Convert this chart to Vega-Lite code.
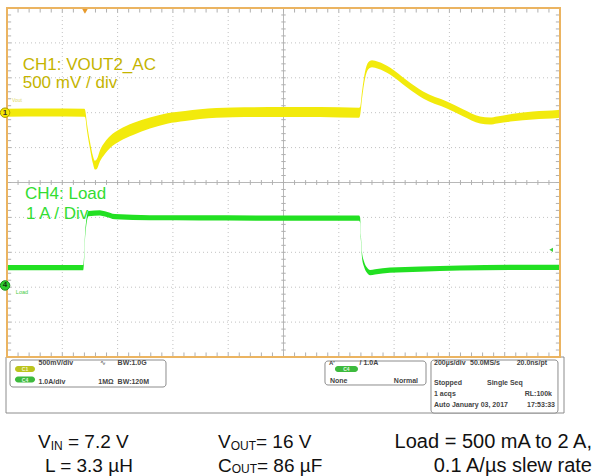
{
"$schema":"https://vega.github.io/schema/vega-lite/v6.json",
"width":553,"height":349,
"autosize":{"type":"none"},
"padding":{"left":7,"top":8,"right":36,"bottom":119},
"background":"white",
"config":{"view":{"stroke":null},"font":"Liberation Sans"},
"resolve":{"scale":{"y":"independent"}},
"datasets":{
"vgrid":[{"t":200},{"t":400},{"t":600},{"t":800},{"t":1200},{"t":1400},{"t":1600},{"t":1800}],
"hgrid":[{"d":-4},{"d":-3},{"d":-2},{"d":-1},{"d":1},{"d":2},{"d":3},{"d":4}],
"xminor":[{"t":40},{"t":80},{"t":120},{"t":160},{"t":200},{"t":240},{"t":280},{"t":320},{"t":360},{"t":400},{"t":440},{"t":480},{"t":520},{"t":560},{"t":600},{"t":640},{"t":680},{"t":720},{"t":760},{"t":800},{"t":840},{"t":880},{"t":920},{"t":960},{"t":1000},{"t":1040},{"t":1080},{"t":1120},{"t":1160},{"t":1200},{"t":1240},{"t":1280},{"t":1320},{"t":1360},{"t":1400},{"t":1440},{"t":1480},{"t":1520},{"t":1560},{"t":1600},{"t":1640},{"t":1680},{"t":1720},{"t":1760},{"t":1800},{"t":1840},{"t":1880},{"t":1920},{"t":1960}],
"yminor":[{"d":-4.8},{"d":-4.6},{"d":-4.4},{"d":-4.2},{"d":-4},{"d":-3.8},{"d":-3.6},{"d":-3.4},{"d":-3.2},{"d":-3},{"d":-2.8},{"d":-2.6},{"d":-2.4},{"d":-2.2},{"d":-2},{"d":-1.8},{"d":-1.6},{"d":-1.4},{"d":-1.2},{"d":-1},{"d":-0.8},{"d":-0.6},{"d":-0.4},{"d":-0.2},{"d":0},{"d":0.2},{"d":0.4},{"d":0.6},{"d":0.8},{"d":1},{"d":1.2},{"d":1.4},{"d":1.6},{"d":1.8},{"d":2},{"d":2.2},{"d":2.4},{"d":2.6},{"d":2.8},{"d":3},{"d":3.2},{"d":3.4},{"d":3.6},{"d":3.8},{"d":4},{"d":4.2},{"d":4.4},{"d":4.6},{"d":4.8}],
"ch1":[{"t":0,"mV_hi":57,"mV_lo":-57},{"t":140,"mV_hi":59,"mV_lo":-55},{"t":280,"mV_hi":57,"mV_lo":-57},{"t":283,"mV_hi":30,"mV_lo":-70},{"t":289,"mV_hi":-150,"mV_lo":-250},{"t":300,"mV_hi":-413,"mV_lo":-513},{"t":311,"mV_hi":-623,"mV_lo":-733},{"t":318,"mV_hi":-690,"mV_lo":-815},{"t":325,"mV_hi":-665,"mV_lo":-805},{"t":336,"mV_hi":-540,"mV_lo":-700},{"t":354,"mV_hi":-420,"mV_lo":-592},{"t":373,"mV_hi":-334,"mV_lo":-506},{"t":409,"mV_hi":-234,"mV_lo":-406},{"t":456,"mV_hi":-147,"mV_lo":-319},{"t":517,"mV_hi":-68,"mV_lo":-228},{"t":579,"mV_hi":-8,"mV_lo":-158},{"t":644,"mV_hi":25,"mV_lo":-119},{"t":698,"mV_hi":51,"mV_lo":-89},{"t":817,"mV_hi":75,"mV_lo":-65},{"t":998,"mV_hi":80,"mV_lo":-60},{"t":1132,"mV_hi":82,"mV_lo":-62},{"t":1273,"mV_hi":72,"mV_lo":-72},{"t":1277,"mV_hi":80,"mV_lo":-40},{"t":1284,"mV_hi":304,"mV_lo":204},{"t":1295,"mV_hi":590,"mV_lo":490},{"t":1306,"mV_hi":720,"mV_lo":620},{"t":1320,"mV_hi":750,"mV_lo":650},{"t":1342,"mV_hi":730,"mV_lo":630},{"t":1385,"mV_hi":647,"mV_lo":547},{"t":1447,"mV_hi":461,"mV_lo":361},{"t":1505,"mV_hi":304,"mV_lo":204},{"t":1591,"mV_hi":160,"mV_lo":60},{"t":1649,"mV_hi":50,"mV_lo":-50},{"t":1711,"mV_hi":-55,"mV_lo":-155},{"t":1747,"mV_hi":-70,"mV_lo":-170},{"t":1772,"mV_hi":-55,"mV_lo":-155},{"t":1830,"mV_hi":-14,"mV_lo":-124},{"t":1902,"mV_hi":17,"mV_lo":-97},{"t":1993,"mV_hi":38,"mV_lo":-76},{"t":2000,"mV_hi":46,"mV_lo":-68}],
"ch4":[{"t":0,"A_hi":0.585,"A_lo":0.435},{"t":275,"A_hi":0.585,"A_lo":0.435},{"t":279,"A_hi":0.875,"A_lo":0.725},{"t":282,"A_hi":1.455,"A_lo":1.305},{"t":286,"A_hi":1.825,"A_lo":1.675},{"t":290,"A_hi":2.035,"A_lo":1.885},{"t":295,"A_hi":2.135,"A_lo":1.985},{"t":336,"A_hi":2.155,"A_lo":2.005},{"t":354,"A_hi":2.125,"A_lo":1.975},{"t":391,"A_hi":2.045,"A_lo":1.895},{"t":517,"A_hi":2.015,"A_lo":1.865},{"t":698,"A_hi":2.01,"A_lo":1.86},{"t":987,"A_hi":2.005,"A_lo":1.855},{"t":1273,"A_hi":2.005,"A_lo":1.855},{"t":1277,"A_hi":1.955,"A_lo":1.805},{"t":1280,"A_hi":1.435,"A_lo":1.285},{"t":1284,"A_hi":0.945,"A_lo":0.795},{"t":1291,"A_hi":0.695,"A_lo":0.545},{"t":1302,"A_hi":0.515,"A_lo":0.365},{"t":1313,"A_hi":0.445,"A_lo":0.295},{"t":1331,"A_hi":0.465,"A_lo":0.315},{"t":1385,"A_hi":0.515,"A_lo":0.365},{"t":1494,"A_hi":0.545,"A_lo":0.395},{"t":1638,"A_hi":0.575,"A_lo":0.425},{"t":1819,"A_hi":0.59,"A_lo":0.44},{"t":2000,"A_hi":0.59,"A_lo":0.44}]
},
"layer":[
{"data":{"name":"vgrid"},"mark":{"type":"rule","color":"#C2C2C2","strokeWidth":1,"strokeDash":[1,3]},"encoding":{"x":{"field":"t","type":"quantitative","scale":{"domain":[0,2000],"nice":false,"zero":false},"axis":null},"y":{"datum":-5,"type":"quantitative","scale":{"domain":[-5,5],"nice":false,"zero":false},"axis":null},"y2":{"datum":5}}},
{"data":{"name":"hgrid"},"mark":{"type":"rule","color":"#C2C2C2","strokeWidth":1,"strokeDash":[1,3]},"encoding":{"y":{"field":"d","type":"quantitative","scale":{"domain":[-5,5],"nice":false,"zero":false},"axis":null},"x":{"datum":0,"type":"quantitative","scale":{"domain":[0,2000],"nice":false,"zero":false},"axis":null},"x2":{"datum":2000}}},
{"data":{"values":[{}]},"mark":{"type":"rule","color":"#B8B8B8","strokeWidth":1},"encoding":{"x":{"datum":1000,"type":"quantitative","scale":{"domain":[0,2000],"nice":false,"zero":false},"axis":null},"y":{"datum":-5,"type":"quantitative","scale":{"domain":[-5,5],"nice":false,"zero":false},"axis":null},"y2":{"datum":5}}},
{"data":{"values":[{}]},"mark":{"type":"rule","color":"#B8B8B8","strokeWidth":1},"encoding":{"y":{"datum":0,"type":"quantitative","scale":{"domain":[-5,5],"nice":false,"zero":false},"axis":null},"x":{"datum":0,"type":"quantitative","scale":{"domain":[0,2000],"nice":false,"zero":false},"axis":null},"x2":{"datum":2000}}},
{"data":{"name":"xminor"},"mark":{"type":"rule","color":"#B0B0B0","strokeWidth":1},"encoding":{"x":{"field":"t","type":"quantitative","scale":{"domain":[0,2000],"nice":false,"zero":false},"axis":null},"y":{"datum":-0.07,"type":"quantitative","scale":{"domain":[-5,5],"nice":false,"zero":false},"axis":null},"y2":{"datum":0.07}}},
{"data":{"name":"yminor"},"mark":{"type":"rule","color":"#B0B0B0","strokeWidth":1},"encoding":{"y":{"field":"d","type":"quantitative","scale":{"domain":[-5,5],"nice":false,"zero":false},"axis":null},"x":{"datum":992,"type":"quantitative","scale":{"domain":[0,2000],"nice":false,"zero":false},"axis":null},"x2":{"datum":1008}}},
{"data":{"name":"xminor"},"mark":{"type":"rule","color":"#B0B0B0","strokeWidth":1},"encoding":{"x":{"field":"t","type":"quantitative","scale":{"domain":[0,2000],"nice":false,"zero":false},"axis":null},"y":{"datum":5,"type":"quantitative","scale":{"domain":[-5,5],"nice":false,"zero":false},"axis":null},"y2":{"datum":4.87}}},
{"data":{"name":"xminor"},"mark":{"type":"rule","color":"#B0B0B0","strokeWidth":1},"encoding":{"x":{"field":"t","type":"quantitative","scale":{"domain":[0,2000],"nice":false,"zero":false},"axis":null},"y":{"datum":-5,"type":"quantitative","scale":{"domain":[-5,5],"nice":false,"zero":false},"axis":null},"y2":{"datum":-4.87}}},
{"data":{"name":"yminor"},"mark":{"type":"rule","color":"#B0B0B0","strokeWidth":1},"encoding":{"y":{"field":"d","type":"quantitative","scale":{"domain":[-5,5],"nice":false,"zero":false},"axis":null},"x":{"datum":0,"type":"quantitative","scale":{"domain":[0,2000],"nice":false,"zero":false},"axis":null},"x2":{"datum":15}}},
{"data":{"name":"yminor"},"mark":{"type":"rule","color":"#B0B0B0","strokeWidth":1},"encoding":{"y":{"field":"d","type":"quantitative","scale":{"domain":[-5,5],"nice":false,"zero":false},"axis":null},"x":{"datum":2000,"type":"quantitative","scale":{"domain":[0,2000],"nice":false,"zero":false},"axis":null},"x2":{"datum":1985}}},
{"data":{"name":"ch1"},"mark":{"type":"area","color":"#F2EA0C","interpolate":"monotone","opacity":1},"encoding":{"x":{"field":"t","type":"quantitative","scale":{"domain":[0,2000],"nice":false,"zero":false},"axis":null},"y":{"field":"mV_hi","type":"quantitative","scale":{"domain":[-3500,1500],"nice":false,"zero":false},"axis":null},"y2":{"field":"mV_lo"}}},
{"data":{"name":"ch4"},"mark":{"type":"area","color":"#22E022","interpolate":"monotone","opacity":1},"encoding":{"x":{"field":"t","type":"quantitative","scale":{"domain":[0,2000],"nice":false,"zero":false},"axis":null},"y":{"field":"A_hi","type":"quantitative","scale":{"domain":[-2.05,7.95],"nice":false,"zero":false},"axis":null},"y2":{"field":"A_lo"}}},
{"data":{"values":[{}]},"mark":{"type":"rect","fillOpacity":0,"stroke":"#8C8C8C","strokeWidth":1},"encoding":{"x":{"datum":-3.6,"type":"quantitative","scale":{"domain":[0,2000],"nice":false,"zero":false},"axis":null},"x2":{"datum":2014.5},"y":{"datum":-5,"type":"quantitative","scale":{"domain":[-5,5],"nice":false,"zero":false},"axis":null},"y2":{"datum":-6.605}}},
{"data":{"values":[{}]},"mark":{"type":"rect","fillOpacity":0,"stroke":"#EBB461","strokeWidth":2},"encoding":{"x":{"datum":0,"type":"quantitative","scale":{"domain":[0,2000],"nice":false,"zero":false},"axis":null},"x2":{"datum":2000},"y":{"datum":-5,"type":"quantitative","scale":{"domain":[-5,5],"nice":false,"zero":false},"axis":null},"y2":{"datum":5}}},
{"data":{"values":[{}]},"mark":{"type":"rect","fill":"white","stroke":"#8C8C8C","strokeWidth":1,"cornerRadius":3},"encoding":{"x":{"datum":10.85,"type":"quantitative","scale":{"domain":[0,2000],"nice":false,"zero":false},"axis":null},"x2":{"datum":575},"y":{"datum":-5.086,"type":"quantitative","scale":{"domain":[-5,5],"nice":false,"zero":false},"axis":null},"y2":{"datum":-5.86}}},
{"data":{"values":[{}]},"mark":{"type":"rect","fill":"white","stroke":"#8C8C8C","strokeWidth":1,"cornerRadius":3},"encoding":{"x":{"datum":1150,"type":"quantitative","scale":{"domain":[0,2000],"nice":false,"zero":false},"axis":null},"x2":{"datum":1515.4},"y":{"datum":-5.115,"type":"quantitative","scale":{"domain":[-5,5],"nice":false,"zero":false},"axis":null},"y2":{"datum":-5.802}}},
{"data":{"values":[{}]},"mark":{"type":"rect","fill":"white","stroke":"#8C8C8C","strokeWidth":1,"cornerRadius":3},"encoding":{"x":{"datum":1533.4,"type":"quantitative","scale":{"domain":[0,2000],"nice":false,"zero":false},"axis":null},"x2":{"datum":1992.7},"y":{"datum":-5.086,"type":"quantitative","scale":{"domain":[-5,5],"nice":false,"zero":false},"axis":null},"y2":{"datum":-6.605}}},
{"data":{"values":[{}]},"mark":{"type":"rect","fill":"#BCC41E","cornerRadius":3},"encoding":{"x":{"datum":28.9,"type":"quantitative","scale":{"domain":[0,2000],"nice":false,"zero":false},"axis":null},"x2":{"datum":101.3},"y":{"datum":-5.258,"type":"quantitative","scale":{"domain":[-5,5],"nice":false,"zero":false},"axis":null},"y2":{"datum":-5.43}}},
{"data":{"values":[{}]},"mark":{"type":"rect","fill":"#3DBA3D","cornerRadius":3},"encoding":{"x":{"datum":28.9,"type":"quantitative","scale":{"domain":[0,2000],"nice":false,"zero":false},"axis":null},"x2":{"datum":101.3},"y":{"datum":-5.559,"type":"quantitative","scale":{"domain":[-5,5],"nice":false,"zero":false},"axis":null},"y2":{"datum":-5.731}}},
{"data":{"values":[{}]},"mark":{"type":"rect","fill":"#3DBA3D","cornerRadius":3},"encoding":{"x":{"datum":1186,"type":"quantitative","scale":{"domain":[0,2000],"nice":false,"zero":false},"axis":null},"x2":{"datum":1269.4},"y":{"datum":-5.258,"type":"quantitative","scale":{"domain":[-5,5],"nice":false,"zero":false},"axis":null},"y2":{"datum":-5.43}}},
{"data":{"values":[{}]},"mark":{"type":"point","shape":"circle","filled":true,"size":90,"fill":"#F5E600","stroke":"#A89A00","strokeWidth":1,"opacity":1},"encoding":{"x":{"datum":-7,"type":"quantitative","scale":{"domain":[0,2000],"nice":false,"zero":false},"axis":null},"y":{"datum":2,"type":"quantitative","scale":{"domain":[-5,5],"nice":false,"zero":false},"axis":null}}},
{"data":{"values":[{}]},"mark":{"type":"point","shape":"circle","filled":true,"size":90,"fill":"#2ECC2E","stroke":"#1A8A1A","strokeWidth":1,"opacity":1},"encoding":{"x":{"datum":-7,"type":"quantitative","scale":{"domain":[0,2000],"nice":false,"zero":false},"axis":null},"y":{"datum":-2.95,"type":"quantitative","scale":{"domain":[-5,5],"nice":false,"zero":false},"axis":null}}},
{"data":{"values":[{}]},"mark":{"type":"point","shape":"triangle-down","filled":true,"size":30,"fill":"#E89A2A","opacity":1},"encoding":{"x":{"datum":282,"type":"quantitative","scale":{"domain":[0,2000],"nice":false,"zero":false},"axis":null},"y":{"datum":4.9,"type":"quantitative","scale":{"domain":[-5,5],"nice":false,"zero":false},"axis":null}}},
{"data":{"values":[{}]},"mark":{"type":"point","shape":"triangle-left","filled":true,"size":18,"fill":"#3CD23C","opacity":1},"encoding":{"x":{"datum":1968,"type":"quantitative","scale":{"domain":[0,2000],"nice":false,"zero":false},"axis":null},"y":{"datum":-1.93,"type":"quantitative","scale":{"domain":[-5,5],"nice":false,"zero":false},"axis":null}}},
{"data":{"values":[{}]},"mark":{"type":"text","text":"1","fontSize":8,"fontWeight":"bold","color":"#333333","align":"center","baseline":"middle"},"encoding":{"x":{"datum":-7,"type":"quantitative","scale":{"domain":[0,2000],"nice":false,"zero":false},"axis":null},"y":{"datum":2,"type":"quantitative","scale":{"domain":[-5,5],"nice":false,"zero":false},"axis":null}}},
{"data":{"values":[{}]},"mark":{"type":"text","text":"4","fontSize":8,"fontWeight":"bold","color":"#113311","align":"center","baseline":"middle"},"encoding":{"x":{"datum":-7,"type":"quantitative","scale":{"domain":[0,2000],"nice":false,"zero":false},"axis":null},"y":{"datum":-2.95,"type":"quantitative","scale":{"domain":[-5,5],"nice":false,"zero":false},"axis":null}}},
{"data":{"values":[{}]},"mark":{"type":"text","text":"Vout","fontSize":5,"color":"#E2DA6A","align":"left"},"encoding":{"x":{"datum":18,"type":"quantitative","scale":{"domain":[0,2000],"nice":false,"zero":false},"axis":null},"y":{"datum":2.36,"type":"quantitative","scale":{"domain":[-5,5],"nice":false,"zero":false},"axis":null}}},
{"data":{"values":[{}]},"mark":{"type":"text","text":"Load","fontSize":5.5,"color":"#44CC44","align":"left"},"encoding":{"x":{"datum":32,"type":"quantitative","scale":{"domain":[0,2000],"nice":false,"zero":false},"axis":null},"y":{"datum":-3.13,"type":"quantitative","scale":{"domain":[-5,5],"nice":false,"zero":false},"axis":null}}},
{"data":{"values":[{}]},"mark":{"type":"text","text":"CH1: VOUT2_AC","fontSize":17,"color":"#C4B400","align":"left"},"encoding":{"x":{"datum":56.8,"type":"quantitative","scale":{"domain":[0,2000],"nice":false,"zero":false},"axis":null},"y":{"datum":3.367,"type":"quantitative","scale":{"domain":[-5,5],"nice":false,"zero":false},"axis":null}}},
{"data":{"values":[{}]},"mark":{"type":"text","text":"500 mV / div","fontSize":17,"color":"#C4B400","align":"left"},"encoding":{"x":{"datum":56.8,"type":"quantitative","scale":{"domain":[0,2000],"nice":false,"zero":false},"axis":null},"y":{"datum":2.842,"type":"quantitative","scale":{"domain":[-5,5],"nice":false,"zero":false},"axis":null}}},
{"data":{"values":[{}]},"mark":{"type":"text","text":"CH4: Load","fontSize":17,"color":"#33DD33","align":"left"},"encoding":{"x":{"datum":65.1,"type":"quantitative","scale":{"domain":[0,2000],"nice":false,"zero":false},"axis":null},"y":{"datum":-0.33,"type":"quantitative","scale":{"domain":[-5,5],"nice":false,"zero":false},"axis":null}}},
{"data":{"values":[{}]},"mark":{"type":"text","text":"1 A / Div","fontSize":17,"color":"#33DD33","align":"left"},"encoding":{"x":{"datum":68.7,"type":"quantitative","scale":{"domain":[0,2000],"nice":false,"zero":false},"axis":null},"y":{"datum":-0.911,"type":"quantitative","scale":{"domain":[-5,5],"nice":false,"zero":false},"axis":null}}},
{"data":{"values":[{}]},"mark":{"type":"text","text":"C1","fontSize":5,"fontWeight":"bold","color":"#F4F4D0","align":"center","baseline":"middle"},"encoding":{"x":{"datum":65.1,"type":"quantitative","scale":{"domain":[0,2000],"nice":false,"zero":false},"axis":null},"y":{"datum":-5.344,"type":"quantitative","scale":{"domain":[-5,5],"nice":false,"zero":false},"axis":null}}},
{"data":{"values":[{}]},"mark":{"type":"text","text":"C4","fontSize":5,"fontWeight":"bold","color":"#E0F8E0","align":"center","baseline":"middle"},"encoding":{"x":{"datum":65.1,"type":"quantitative","scale":{"domain":[0,2000],"nice":false,"zero":false},"axis":null},"y":{"datum":-5.645,"type":"quantitative","scale":{"domain":[-5,5],"nice":false,"zero":false},"axis":null}}},
{"data":{"values":[{}]},"mark":{"type":"text","text":"C4","fontSize":5,"fontWeight":"bold","color":"#E0F8E0","align":"center","baseline":"middle"},"encoding":{"x":{"datum":1227.7,"type":"quantitative","scale":{"domain":[0,2000],"nice":false,"zero":false},"axis":null},"y":{"datum":-5.344,"type":"quantitative","scale":{"domain":[-5,5],"nice":false,"zero":false},"axis":null}}},
{"data":{"values":[{}]},"mark":{"type":"text","text":"500mV/div","fontSize":7,"fontWeight":"bold","color":"#444444","align":"left"},"encoding":{"x":{"datum":113.9,"type":"quantitative","scale":{"domain":[0,2000],"nice":false,"zero":false},"axis":null},"y":{"datum":-5.186,"type":"quantitative","scale":{"domain":[-5,5],"nice":false,"zero":false},"axis":null}}},
{"data":{"values":[{}]},"mark":{"type":"text","text":"∿","fontSize":7,"color":"#444444","align":"left"},"encoding":{"x":{"datum":336,"type":"quantitative","scale":{"domain":[0,2000],"nice":false,"zero":false},"axis":null},"y":{"datum":-5.186,"type":"quantitative","scale":{"domain":[-5,5],"nice":false,"zero":false},"axis":null}}},
{"data":{"values":[{}]},"mark":{"type":"text","text":"BW:1.0G","fontSize":7,"fontWeight":"bold","color":"#444444","align":"left"},"encoding":{"x":{"datum":400,"type":"quantitative","scale":{"domain":[0,2000],"nice":false,"zero":false},"axis":null},"y":{"datum":-5.186,"type":"quantitative","scale":{"domain":[-5,5],"nice":false,"zero":false},"axis":null}}},
{"data":{"values":[{}]},"mark":{"type":"text","text":"1.0A/div","fontSize":7,"fontWeight":"bold","color":"#444444","align":"left"},"encoding":{"x":{"datum":113.9,"type":"quantitative","scale":{"domain":[0,2000],"nice":false,"zero":false},"axis":null},"y":{"datum":-5.716,"type":"quantitative","scale":{"domain":[-5,5],"nice":false,"zero":false},"axis":null}}},
{"data":{"values":[{}]},"mark":{"type":"text","text":"1MΩ","fontSize":7,"fontWeight":"bold","color":"#444444","align":"left"},"encoding":{"x":{"datum":330,"type":"quantitative","scale":{"domain":[0,2000],"nice":false,"zero":false},"axis":null},"y":{"datum":-5.716,"type":"quantitative","scale":{"domain":[-5,5],"nice":false,"zero":false},"axis":null}}},
{"data":{"values":[{}]},"mark":{"type":"text","text":"BW:120M","fontSize":7,"fontWeight":"bold","color":"#444444","align":"left"},"encoding":{"x":{"datum":400,"type":"quantitative","scale":{"domain":[0,2000],"nice":false,"zero":false},"axis":null},"y":{"datum":-5.716,"type":"quantitative","scale":{"domain":[-5,5],"nice":false,"zero":false},"axis":null}}},
{"data":{"values":[{}]},"mark":{"type":"text","text":"A'","fontSize":6,"fontWeight":"bold","color":"#444444","align":"left"},"encoding":{"x":{"datum":1164.5,"type":"quantitative","scale":{"domain":[0,2000],"nice":false,"zero":false},"axis":null},"y":{"datum":-5.186,"type":"quantitative","scale":{"domain":[-5,5],"nice":false,"zero":false},"axis":null}}},
{"data":{"values":[{}]},"mark":{"type":"text","text":"/ 1.0A","fontSize":7,"fontWeight":"bold","color":"#444444","align":"left"},"encoding":{"x":{"datum":1274.9,"type":"quantitative","scale":{"domain":[0,2000],"nice":false,"zero":false},"axis":null},"y":{"datum":-5.186,"type":"quantitative","scale":{"domain":[-5,5],"nice":false,"zero":false},"axis":null}}},
{"data":{"values":[{}]},"mark":{"type":"text","text":"None","fontSize":7,"fontWeight":"bold","color":"#444444","align":"left"},"encoding":{"x":{"datum":1168,"type":"quantitative","scale":{"domain":[0,2000],"nice":false,"zero":false},"axis":null},"y":{"datum":-5.688,"type":"quantitative","scale":{"domain":[-5,5],"nice":false,"zero":false},"axis":null}}},
{"data":{"values":[{}]},"mark":{"type":"text","text":"Normal","fontSize":7,"fontWeight":"bold","color":"#444444","align":"right"},"encoding":{"x":{"datum":1486.4,"type":"quantitative","scale":{"domain":[0,2000],"nice":false,"zero":false},"axis":null},"y":{"datum":-5.688,"type":"quantitative","scale":{"domain":[-5,5],"nice":false,"zero":false},"axis":null}}},
{"data":{"values":[{}]},"mark":{"type":"text","text":"200µs/div","fontSize":7,"fontWeight":"bold","color":"#444444","align":"left"},"encoding":{"x":{"datum":1544.3,"type":"quantitative","scale":{"domain":[0,2000],"nice":false,"zero":false},"axis":null},"y":{"datum":-5.186,"type":"quantitative","scale":{"domain":[-5,5],"nice":false,"zero":false},"axis":null}}},
{"data":{"values":[{}]},"mark":{"type":"text","text":"50.0MS/s","fontSize":7,"fontWeight":"bold","color":"#444444","align":"left"},"encoding":{"x":{"datum":1674.5,"type":"quantitative","scale":{"domain":[0,2000],"nice":false,"zero":false},"axis":null},"y":{"datum":-5.186,"type":"quantitative","scale":{"domain":[-5,5],"nice":false,"zero":false},"axis":null}}},
{"data":{"values":[{}]},"mark":{"type":"text","text":"20.0ns/pt","fontSize":7,"fontWeight":"bold","color":"#444444","align":"right"},"encoding":{"x":{"datum":1953,"type":"quantitative","scale":{"domain":[0,2000],"nice":false,"zero":false},"axis":null},"y":{"datum":-5.186,"type":"quantitative","scale":{"domain":[-5,5],"nice":false,"zero":false},"axis":null}}},
{"data":{"values":[{}]},"mark":{"type":"text","text":"Stopped","fontSize":7,"fontWeight":"bold","color":"#444444","align":"left"},"encoding":{"x":{"datum":1544.3,"type":"quantitative","scale":{"domain":[0,2000],"nice":false,"zero":false},"axis":null},"y":{"datum":-5.731,"type":"quantitative","scale":{"domain":[-5,5],"nice":false,"zero":false},"axis":null}}},
{"data":{"values":[{}]},"mark":{"type":"text","text":"Single Seq","fontSize":7,"fontWeight":"bold","color":"#444444","align":"left"},"encoding":{"x":{"datum":1736,"type":"quantitative","scale":{"domain":[0,2000],"nice":false,"zero":false},"axis":null},"y":{"datum":-5.731,"type":"quantitative","scale":{"domain":[-5,5],"nice":false,"zero":false},"axis":null}}},
{"data":{"values":[{}]},"mark":{"type":"text","text":"1 acqs","fontSize":7,"fontWeight":"bold","color":"#444444","align":"left"},"encoding":{"x":{"datum":1544.3,"type":"quantitative","scale":{"domain":[0,2000],"nice":false,"zero":false},"axis":null},"y":{"datum":-6.046,"type":"quantitative","scale":{"domain":[-5,5],"nice":false,"zero":false},"axis":null}}},
{"data":{"values":[{}]},"mark":{"type":"text","text":"RL:100k","fontSize":7,"fontWeight":"bold","color":"#444444","align":"right"},"encoding":{"x":{"datum":1971,"type":"quantitative","scale":{"domain":[0,2000],"nice":false,"zero":false},"axis":null},"y":{"datum":-6.046,"type":"quantitative","scale":{"domain":[-5,5],"nice":false,"zero":false},"axis":null}}},
{"data":{"values":[{}]},"mark":{"type":"text","text":"Auto","fontSize":7,"fontWeight":"bold","color":"#444444","align":"left"},"encoding":{"x":{"datum":1544.3,"type":"quantitative","scale":{"domain":[0,2000],"nice":false,"zero":false},"axis":null},"y":{"datum":-6.375,"type":"quantitative","scale":{"domain":[-5,5],"nice":false,"zero":false},"axis":null}}},
{"data":{"values":[{}]},"mark":{"type":"text","text":"January 03, 2017","fontSize":7,"fontWeight":"bold","color":"#444444","align":"left"},"encoding":{"x":{"datum":1609,"type":"quantitative","scale":{"domain":[0,2000],"nice":false,"zero":false},"axis":null},"y":{"datum":-6.375,"type":"quantitative","scale":{"domain":[-5,5],"nice":false,"zero":false},"axis":null}}},
{"data":{"values":[{}]},"mark":{"type":"text","text":"17:53:33","fontSize":7,"fontWeight":"bold","color":"#444444","align":"right"},"encoding":{"x":{"datum":1982,"type":"quantitative","scale":{"domain":[0,2000],"nice":false,"zero":false},"axis":null},"y":{"datum":-6.375,"type":"quantitative","scale":{"domain":[-5,5],"nice":false,"zero":false},"axis":null}}},
{"data":{"values":[{}]},"mark":{"type":"text","text":"V","fontSize":19,"color":"#111111","align":"left"},"encoding":{"x":{"datum":112.1,"type":"quantitative","scale":{"domain":[0,2000],"nice":false,"zero":false},"axis":null},"y":{"datum":-7.436,"type":"quantitative","scale":{"domain":[-5,5],"nice":false,"zero":false},"axis":null}}},
{"data":{"values":[{}]},"mark":{"type":"text","text":"IN","fontSize":12,"color":"#111111","align":"left"},"encoding":{"x":{"datum":158,"type":"quantitative","scale":{"domain":[0,2000],"nice":false,"zero":false},"axis":null},"y":{"datum":-7.536,"type":"quantitative","scale":{"domain":[-5,5],"nice":false,"zero":false},"axis":null}}},
{"data":{"values":[{}]},"mark":{"type":"text","text":"= 7.2 V","fontSize":19,"color":"#111111","align":"left"},"encoding":{"x":{"datum":220.6,"type":"quantitative","scale":{"domain":[0,2000],"nice":false,"zero":false},"axis":null},"y":{"datum":-7.436,"type":"quantitative","scale":{"domain":[-5,5],"nice":false,"zero":false},"axis":null}}},
{"data":{"values":[{}]},"mark":{"type":"text","text":"V","fontSize":19,"color":"#111111","align":"left"},"encoding":{"x":{"datum":763.1,"type":"quantitative","scale":{"domain":[0,2000],"nice":false,"zero":false},"axis":null},"y":{"datum":-7.436,"type":"quantitative","scale":{"domain":[-5,5],"nice":false,"zero":false},"axis":null}}},
{"data":{"values":[{}]},"mark":{"type":"text","text":"OUT","fontSize":12,"color":"#111111","align":"left"},"encoding":{"x":{"datum":809,"type":"quantitative","scale":{"domain":[0,2000],"nice":false,"zero":false},"axis":null},"y":{"datum":-7.536,"type":"quantitative","scale":{"domain":[-5,5],"nice":false,"zero":false},"axis":null}}},
{"data":{"values":[{}]},"mark":{"type":"text","text":"= 16 V","fontSize":19,"color":"#111111","align":"left"},"encoding":{"x":{"datum":900.5,"type":"quantitative","scale":{"domain":[0,2000],"nice":false,"zero":false},"axis":null},"y":{"datum":-7.436,"type":"quantitative","scale":{"domain":[-5,5],"nice":false,"zero":false},"axis":null}}},
{"data":{"values":[{}]},"mark":{"type":"text","text":"Load = 500 mA to 2 A,","fontSize":20,"color":"#111111","align":"right"},"encoding":{"x":{"datum":2115.7,"type":"quantitative","scale":{"domain":[0,2000],"nice":false,"zero":false},"axis":null},"y":{"datum":-7.436,"type":"quantitative","scale":{"domain":[-5,5],"nice":false,"zero":false},"axis":null}}},
{"data":{"values":[{}]},"mark":{"type":"text","text":"L = 3.3 µH","fontSize":19,"color":"#111111","align":"left"},"encoding":{"x":{"datum":137.4,"type":"quantitative","scale":{"domain":[0,2000],"nice":false,"zero":false},"axis":null},"y":{"datum":-8.123,"type":"quantitative","scale":{"domain":[-5,5],"nice":false,"zero":false},"axis":null}}},
{"data":{"values":[{}]},"mark":{"type":"text","text":"C","fontSize":19,"color":"#111111","align":"left"},"encoding":{"x":{"datum":763.1,"type":"quantitative","scale":{"domain":[0,2000],"nice":false,"zero":false},"axis":null},"y":{"datum":-8.123,"type":"quantitative","scale":{"domain":[-5,5],"nice":false,"zero":false},"axis":null}}},
{"data":{"values":[{}]},"mark":{"type":"text","text":"OUT","fontSize":12,"color":"#111111","align":"left"},"encoding":{"x":{"datum":812.7,"type":"quantitative","scale":{"domain":[0,2000],"nice":false,"zero":false},"axis":null},"y":{"datum":-8.223,"type":"quantitative","scale":{"domain":[-5,5],"nice":false,"zero":false},"axis":null}}},
{"data":{"values":[{}]},"mark":{"type":"text","text":"= 86 µF","fontSize":19,"color":"#111111","align":"left"},"encoding":{"x":{"datum":904,"type":"quantitative","scale":{"domain":[0,2000],"nice":false,"zero":false},"axis":null},"y":{"datum":-8.123,"type":"quantitative","scale":{"domain":[-5,5],"nice":false,"zero":false},"axis":null}}},
{"data":{"values":[{}]},"mark":{"type":"text","text":"0.1 A/µs slew rate","fontSize":20,"color":"#111111","align":"right"},"encoding":{"x":{"datum":2115.7,"type":"quantitative","scale":{"domain":[0,2000],"nice":false,"zero":false},"axis":null},"y":{"datum":-8.123,"type":"quantitative","scale":{"domain":[-5,5],"nice":false,"zero":false},"axis":null}}}
]
}
